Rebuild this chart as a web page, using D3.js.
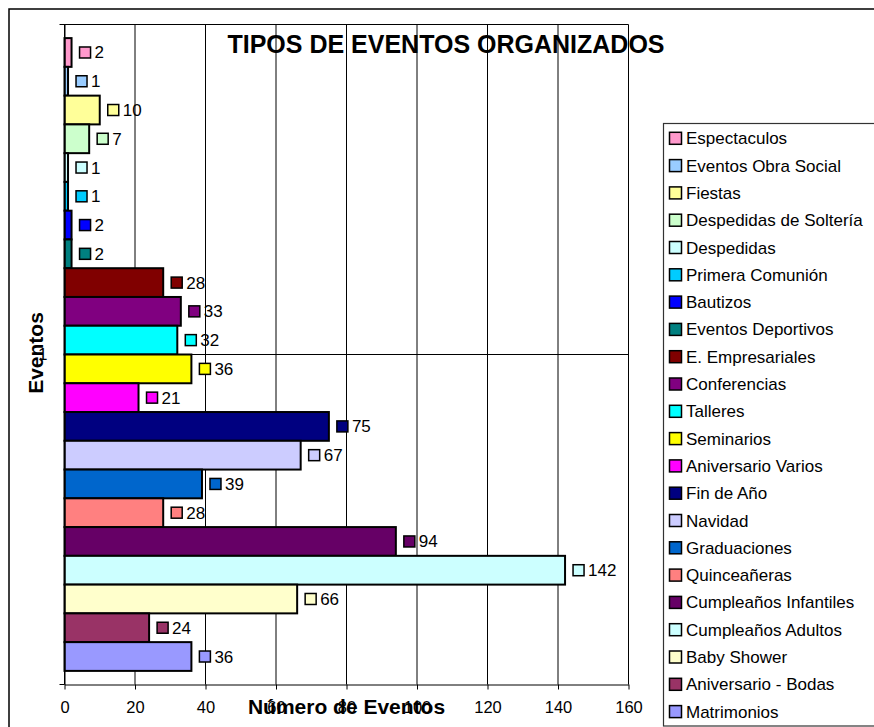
<!DOCTYPE html>
<html>
<head>
<meta charset="utf-8">
<script src="https://cdn.jsdelivr.net/npm/d3@7"></script>
<style>
  html, body { margin: 0; padding: 0; background: #fff; }
  svg { display: block; font-family: "Liberation Sans", Arial, Helvetica, sans-serif; }
</style>
</head>
<body>
<svg id="chart" width="874" height="727"></svg>
<script>
// Event types, in the order they are stacked from top to bottom
const series = [
  "Espectaculos", "Eventos Obra Social", "Fiestas", "Despedidas de Soltería",
  "Despedidas", "Primera Comunión", "Bautizos", "Eventos Deportivos",
  "E. Empresariales", "Conferencias", "Talleres", "Seminarios",
  "Aniversario Varios", "Fin de Año", "Navidad", "Graduaciones",
  "Quinceañeras", "Cumpleaños Infantiles", "Cumpleaños Adultos",
  "Baby Shower", "Aniversario - Bodas", "Matrimonios"
];
const values = [2, 1, 10, 7, 1, 1, 2, 2, 28, 33, 32, 36, 21, 75, 67, 39, 28, 94, 142, 66, 24, 36];
const colors = [
  "#FF99CC", "#99CCFF", "#FFFF99", "#CCFFCC", "#CCFFFF", "#00CCFF", "#0000FF", "#008080",
  "#800000", "#800080", "#00FFFF", "#FFFF00", "#FF00FF", "#000080", "#CCCCFF", "#0066CC",
  "#FF8080", "#660066", "#CCFFFF", "#FFFFCC", "#993366", "#9999FF"
];
const categories = ["1"];
const xTicks = [0, 20, 40, 60, 80, 100, 120, 140, 160];
const titleText = "TIPOS DE EVENTOS ORGANIZADOS";
const xTitle = "Número de Eventos";
const yTitle = "Eventos";

const svg = d3.select("#chart");
const plot = { left: 64.5, right: 628.5, top: 24.5, bottom: 684.5 };

// chart area frame (extends past the visible canvas on the right and bottom)
svg.append("rect")
  .attr("x", 9).attr("y", 9).attr("width", 1000).attr("height", 1000)
  .attr("fill", "#fff").attr("stroke", "#000").attr("stroke-width", 1.5);

const x = d3.scaleLinear().domain([0, 160]).range([plot.left, plot.right]);
const yCat = d3.scaleBand().domain(categories)
  .range([plot.top, plot.bottom]).paddingInner(0).paddingOuter(0.0215);
const ySer = d3.scaleBand().domain(series).range([0, yCat.bandwidth()]).padding(0);

// plot background
svg.append("rect")
  .attr("x", plot.left).attr("y", plot.top)
  .attr("width", plot.right - plot.left).attr("height", plot.bottom - plot.top)
  .attr("fill", "#fff");

// vertical gridlines
svg.append("g").selectAll("line").data(xTicks).join("line")
  .attr("x1", d => x(d)).attr("x2", d => x(d))
  .attr("y1", plot.top).attr("y2", plot.bottom)
  .attr("stroke", "#000").attr("stroke-width", 1);

// horizontal gridline through the category
svg.append("line")
  .attr("x1", plot.left).attr("x2", plot.right)
  .attr("y1", (plot.top + plot.bottom) / 2).attr("y2", (plot.top + plot.bottom) / 2)
  .attr("stroke", "#000").attr("stroke-width", 1);

// plot top edge
svg.append("line")
  .attr("x1", plot.left - 5).attr("x2", plot.right)
  .attr("y1", plot.top).attr("y2", plot.top)
  .attr("stroke", "#000");

// bars
const rows = series.map((s, i) => ({ name: s, value: values[i], color: colors[i] }));
const barG = svg.append("g");
barG.selectAll("rect").data(rows).join("rect")
  .attr("x", x(0))
  .attr("y", d => yCat("1") + ySer(d.name))
  .attr("width", d => x(d.value) - x(0))
  .attr("height", ySer.bandwidth())
  .attr("fill", d => d.color)
  .attr("stroke", "#000").attr("stroke-width", 2);

// data labels with legend key
const lab = svg.append("g").selectAll("g").data(rows).join("g")
  .attr("transform", d => `translate(${x(d.value)},${yCat("1") + ySer(d.name) + ySer.bandwidth() / 2})`);
lab.append("rect")
  .attr("x", 8).attr("y", -5.5).attr("width", 11).attr("height", 11)
  .attr("fill", d => d.color).attr("stroke", "#000").attr("stroke-width", 1.5);
lab.append("text")
  .attr("x", 23).attr("y", 6)
  .attr("font-size", 17).attr("fill", "#000")
  .text(d => d.value);

// x axis
const xAxis = d3.axisBottom(x).tickValues(xTicks).tickSize(5).tickSizeOuter(0).tickPadding(12);
const xg = svg.append("g").attr("transform", `translate(0,${plot.bottom})`).call(xAxis);
xg.select(".domain").attr("stroke", "#000");
xg.selectAll("line").attr("stroke", "#000");
xg.selectAll("text").attr("font-size", 16.5).attr("font-family", "inherit").attr("fill", "#000");
svg.append("line")
  .attr("x1", plot.left - 5).attr("x2", plot.left)
  .attr("y1", plot.bottom).attr("y2", plot.bottom).attr("stroke", "#000");

// y axis (single category)
const yAxis = d3.axisLeft(yCat).tickSize(0).tickPadding(17);
const yg = svg.append("g").attr("transform", `translate(${plot.left},0)`).call(yAxis);
yg.select(".domain").attr("stroke", "#000");
yg.selectAll("text").attr("font-size", 17).attr("font-family", "inherit").attr("fill", "#000");

// titles
svg.append("text")
  .attr("x", 446).attr("y", 53)
  .attr("text-anchor", "middle").attr("font-size", 25).attr("font-weight", "bold")
  .text(titleText);
svg.append("text")
  .attr("x", (plot.left + plot.right) / 2).attr("y", 714)
  .attr("text-anchor", "middle").attr("font-size", 21).attr("font-weight", "bold")
  .text(xTitle);
svg.append("text")
  .attr("transform", `translate(43,353) rotate(-90)`)
  .attr("text-anchor", "middle").attr("font-size", 21).attr("font-weight", "bold")
  .text(yTitle);

// legend
const legend = { x: 663.5, y: 123.5, first: 138.3, step: 27.3 };
svg.append("rect")
  .attr("x", legend.x).attr("y", legend.y).attr("width", 400).attr("height", 602.5)
  .attr("fill", "#fff").attr("stroke", "#333").attr("stroke-width", 1.2);
const li = svg.append("g").selectAll("g").data(rows).join("g")
  .attr("transform", (d, i) => `translate(${legend.x},${legend.first + i * legend.step})`);
li.append("rect")
  .attr("x", 6).attr("y", -6).attr("width", 12).attr("height", 12)
  .attr("fill", d => d.color).attr("stroke", "#000").attr("stroke-width", 1.5);
li.append("text")
  .attr("x", 22.5).attr("y", 6)
  .attr("font-size", 17).attr("fill", "#000")
  .text(d => d.name);
</script>
</body>
</html>
